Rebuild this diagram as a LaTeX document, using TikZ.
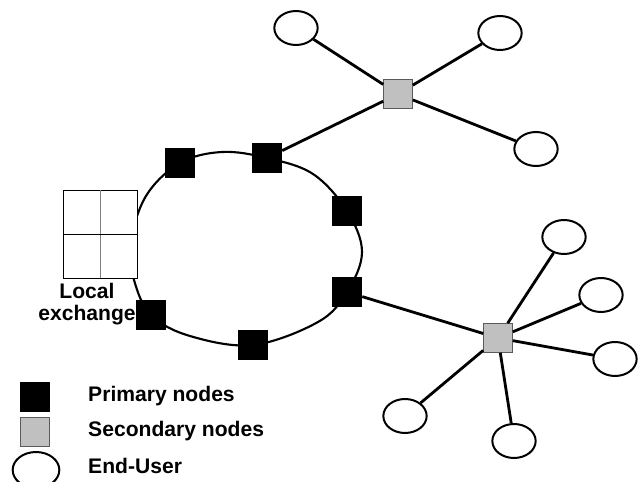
\documentclass[tikz,border=0pt]{standalone}
\usepackage{fontspec}
\setmainfont{Liberation Sans}
\usetikzlibrary{shapes.geometric}
\definecolor{nodegray}{RGB}{192,192,192}
\definecolor{edgegray}{RGB}{90,90,90}

\begin{document}
\begin{tikzpicture}[x=0.03cm,y=-0.03cm,
    primary/.style={fill=black, minimum size=0.9cm, inner sep=0pt},
    secondary/.style={fill=nodegray, draw=edgegray, line width=0.8pt, minimum size=0.86cm, inner sep=0pt},
    enduser/.style={ellipse, draw, line width=1.7pt, fill=white, minimum width=1.3cm, minimum height=1.02cm, inner sep=0pt},
    link/.style={line width=2.4pt},
    label/.style={font=\fontsize{18}{19}\selectfont\bfseries, inner sep=0pt}]
    \useasboundingbox (0,0) rectangle (642,482);
    % ring
    \draw[line width=1.8pt] plot[smooth cycle, tension=0.6] coordinates {(130,245) (146,196) (180,163) (222,152) (267,158) (313,174) (347,211) (362,252) (347,292) (318,322) (253,345) (190,336) (151,315) (134,280)};
    % local exchange
    \node[draw, fill=white, line width=0.8pt, minimum width=2.22cm, minimum height=2.64cm, inner sep=0pt] (lx) at (100,234) {};
    \draw[gray, line width=0.8pt] (lx.north) -- (lx.south);
    \draw[line width=0.8pt] (lx.west) -- (lx.east);
    \node[label, align=center] (lxtext) at (87,304) {Local\\exchange};
    % primary nodes
    \node[primary] (p1) at (180,163) {};
    \node[primary] (p2) at (267,158) {};
    \node[primary] (p3) at (347,211) {};
    \node[primary] (p4) at (347,292) {};
    \node[primary] (p5) at (253,345) {};
    \node[primary] (p6) at (151,315) {};
    % secondary nodes
    \node[secondary] (s1) at (398,94) {};
    \node[secondary] (s2) at (498,338) {};
    % end users
    \node[enduser] (e1) at (296,28) {};
    \node[enduser] (e2) at (500,33) {};
    \node[enduser] (e3) at (536,149) {};
    \node[enduser] (e4) at (564,237) {};
    \node[enduser] (e5) at (601,295) {};
    \node[enduser] (e6) at (615,359) {};
    \node[enduser] (e7) at (514,441) {};
    \node[enduser] (e8) at (405,416) {};
    % links
    \draw[link] (p2) -- (s1);
    \draw[link] (s1) -- (e1);
    \draw[link] (s1) -- (e2);
    \draw[link] (s1) -- (e3);
    \draw[link] (p4) -- (s2);
    \foreach \e in {e4,e5,e6,e7,e8}
        \draw[link] (s2) -- (\e);
    % legend
    \node[primary] (lp) at (35,397) {};
    \node[secondary] (ls) at (35,432) {};
    \node[enduser, minimum width=1.4cm, minimum height=1.08cm] (le) at (36,470) {};
    \node[label, anchor=west] (lptext) at (88,396) {Primary nodes};
    \node[label, anchor=west] (lstext) at (88,431) {Secondary nodes};
    \node[label, anchor=west] (letext) at (88,466) {End-User};
\end{tikzpicture}
\end{document}
